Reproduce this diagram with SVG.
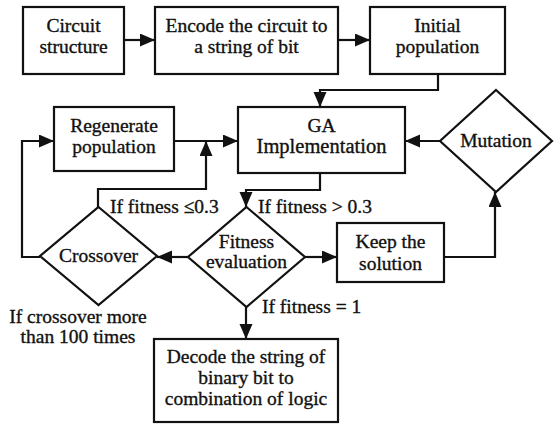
<svg xmlns="http://www.w3.org/2000/svg" width="554" height="424" viewBox="0 0 554 424">
<style>
.n{fill:#fff;stroke:#111;stroke-width:2.2}
.c{fill:none;stroke:#111;stroke-width:2.2}
text{stroke:#111;stroke-width:0.35}
</style>
<defs>
<marker id="ah" markerUnits="userSpaceOnUse" markerWidth="16" markerHeight="14" refX="15" refY="6.5" orient="auto">
<path d="M0,0 L15,6.5 L0,13 z" fill="#111"/>
</marker>
</defs>
<rect width="554" height="424" fill="#fff"/>
<g id="connectors">
<path class="c" d="M124,40 H155" marker-end="url(#ah)"/>
<path class="c" d="M338,40 H370" marker-end="url(#ah)"/>
<path class="c" d="M438,74 V90 H320 V107" marker-end="url(#ah)"/>
<path class="c" d="M174,141 H238" marker-end="url(#ah)"/>
<path class="c" d="M98,207 V189 H206 V141" marker-end="url(#ah)"/>
<path class="c" d="M320,173 V190 H246 V207" marker-end="url(#ah)"/>
<path class="c" d="M188,257 H157" marker-end="url(#ah)"/>
<path class="c" d="M305,257 H337" marker-end="url(#ah)"/>
<path class="c" d="M444,257 H495 V192" marker-end="url(#ah)"/>
<path class="c" d="M440,141 H405" marker-end="url(#ah)"/>
<path class="c" d="M40,257 H22 V141 H54" marker-end="url(#ah)"/>
<path class="c" d="M246,307 V339" marker-end="url(#ah)"/>
</g>
<g id="circuit">
<rect class="n" x="23" y="7" width="101" height="67"/>
<text x="73.5" y="32" font-family="Liberation Serif" font-size="19.5" text-anchor="middle" fill="#111">Circuit</text>
<text x="73.5" y="53" font-family="Liberation Serif" font-size="19.5" text-anchor="middle" fill="#111">structure</text>
</g>
<g id="encode">
<rect class="n" x="155" y="7" width="183" height="67"/>
<text x="246.5" y="32" font-family="Liberation Serif" font-size="19.5" text-anchor="middle" fill="#111">Encode the circuit to</text>
<text x="246.5" y="53" font-family="Liberation Serif" font-size="19.5" text-anchor="middle" fill="#111">a string of bit</text>
</g>
<g id="initial">
<rect class="n" x="370" y="7" width="135" height="67"/>
<text x="437.5" y="32" font-family="Liberation Serif" font-size="19.5" text-anchor="middle" fill="#111">Initial</text>
<text x="437.5" y="53" font-family="Liberation Serif" font-size="19.5" text-anchor="middle" fill="#111">population</text>
</g>
<g id="regenerate">
<rect class="n" x="54" y="107" width="120" height="64"/>
<text x="114" y="132" font-family="Liberation Serif" font-size="19.5" text-anchor="middle" fill="#111">Regenerate</text>
<text x="114" y="153" font-family="Liberation Serif" font-size="19.5" text-anchor="middle" fill="#111">population</text>
</g>
<g id="ga">
<rect class="n" x="238" y="107" width="167" height="66"/>
<text x="321.5" y="132" font-family="Liberation Serif" font-size="19.5" text-anchor="middle" fill="#111">GA</text>
<text x="321.5" y="153" font-family="Liberation Serif" font-size="20.5" text-anchor="middle" fill="#111">Implementation</text>
</g>
<g id="mutation">
<polygon class="n" points="496,90 552,141 496,192 440,141"/>
<text x="496" y="147" font-family="Liberation Serif" font-size="19.5" text-anchor="middle" fill="#111">Mutation</text>
</g>
<g id="fitness">
<polygon class="n" points="246.5,207 305,257 246.5,307 188,257"/>
<text x="246.5" y="248" font-family="Liberation Serif" font-size="19.5" text-anchor="middle" fill="#111">Fitness</text>
<text x="246.5" y="268" font-family="Liberation Serif" font-size="19.5" text-anchor="middle" fill="#111">evaluation</text>
</g>
<g id="crossover">
<polygon class="n" points="98.5,207 157,256 98.5,305 40,256"/>
<text x="98.5" y="262" font-family="Liberation Serif" font-size="19.5" text-anchor="middle" fill="#111">Crossover</text>
</g>
<g id="keep">
<rect class="n" x="337" y="223" width="107" height="59"/>
<text x="390.5" y="248" font-family="Liberation Serif" font-size="19.5" text-anchor="middle" fill="#111">Keep the</text>
<text x="390.5" y="270" font-family="Liberation Serif" font-size="19.5" text-anchor="middle" fill="#111">solution</text>
</g>
<g id="decode">
<rect class="n" x="154" y="339" width="184" height="83"/>
<text x="246" y="363" font-family="Liberation Serif" font-size="19.5" text-anchor="middle" fill="#111">Decode the string of</text>
<text x="246" y="384" font-family="Liberation Serif" font-size="19.5" text-anchor="middle" fill="#111">binary bit to</text>
<text x="246" y="405" font-family="Liberation Serif" font-size="19.5" text-anchor="middle" fill="#111">combination of logic</text>
</g>
<g id="labels">
<text x="110" y="213" font-family="Liberation Serif" font-size="19.5" fill="#111">If fitness ≤0.3</text>
<text x="258" y="213" font-family="Liberation Serif" font-size="19.5" fill="#111">If fitness &gt; 0.3</text>
<text x="262" y="313" font-family="Liberation Serif" font-size="19.5" fill="#111">If fitness = 1</text>
<text x="78" y="323" font-family="Liberation Serif" font-size="19.5" text-anchor="middle" fill="#111">If crossover more</text>
<text x="78" y="343" font-family="Liberation Serif" font-size="19.5" text-anchor="middle" fill="#111">than 100 times</text>
</g>
</svg>
